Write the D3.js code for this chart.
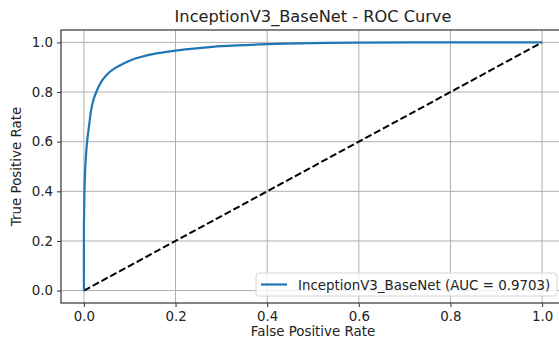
<!DOCTYPE html>
<html>
<head>
<meta charset="utf-8">
<script src="https://cdn.jsdelivr.net/npm/d3@7"></script>
<style>
  body { margin: 0; background: #fff; }
  svg text { font-family: "DejaVu Sans", sans-serif; fill: #222; }
</style>
</head>
<body>
<script>
// ROC curve
var fpr = [0, 0, 0.001, 0.002, 0.004, 0.007, 0.011, 0.016, 0.021, 0.027, 0.034, 0.041, 0.051, 0.063, 0.076, 0.089, 0.105, 0.122, 0.15, 0.2, 0.25, 0.3, 0.4, 0.5, 0.6, 0.8, 1.0];
var tpr = [0, 0.25, 0.38, 0.45, 0.53, 0.6, 0.661, 0.729, 0.77, 0.8, 0.828, 0.85, 0.872, 0.89, 0.905, 0.917, 0.93, 0.94, 0.953, 0.967, 0.977, 0.985, 0.993, 0.997, 0.999, 1.0, 1.0];
var chanceLine = [0, 1];
var ticks = [0, 0.2, 0.4, 0.6, 0.8, 1.0];
var titleText = 'InceptionV3_BaseNet - ROC Curve';
var legendLabel = 'InceptionV3_BaseNet (AUC = 0.9703)';

var width = 559, height = 338;
var margin = {top: 30, right: -6, bottom: 35, left: 61};

var svg = d3.select('body').append('svg')
  .attr('width', width)
  .attr('height', height);

// scales: matplotlib pads 5% each side
var x = d3.scaleLinear().domain([-0.05, 1.05]).range([margin.left, width - margin.right]);
var y = d3.scaleLinear().domain([-0.05, 1.05]).range([height - margin.bottom, margin.top]);

// grid
var grid = svg.append('g').attr('class', 'grid');
ticks.forEach(function(t) {
  grid.append('line')
    .attr('x1', x(t)).attr('x2', x(t))
    .attr('y1', y(-0.05)).attr('y2', y(1.05))
    .attr('stroke', '#b0b0b0').attr('stroke-width', 1);
  grid.append('line')
    .attr('x1', x(-0.05)).attr('x2', x(1.05))
    .attr('y1', y(t)).attr('y2', y(t))
    .attr('stroke', '#b0b0b0').attr('stroke-width', 1);
});

// chance diagonal
svg.append('line')
  .attr('x1', x(chanceLine[0])).attr('y1', y(chanceLine[0]))
  .attr('x2', x(chanceLine[1])).attr('y2', y(chanceLine[1]))
  .attr('stroke', '#000').attr('stroke-width', 2)
  .attr('stroke-dasharray', '7,3');

// roc curve (centripetal catmull-rom keeps it smooth through the knee)
var pts = fpr.map(function(f, i) { return [f, tpr[i]]; });
var line = d3.line()
  .x(function(d) { return x(d[0]); })
  .y(function(d) { return y(d[1]); })
  .curve(d3.curveCatmullRom.alpha(0.5));
svg.append('path')
  .datum(pts)
  .attr('d', line)
  .attr('fill', 'none')
  .attr('stroke', '#1f77b4')
  .attr('stroke-width', 2.2)
  .attr('stroke-linejoin', 'round');

// axes
var xAxis = d3.axisBottom(x).tickValues(ticks).tickFormat(d3.format('.1f')).tickSize(4).tickPadding(4);
var yAxis = d3.axisLeft(y).tickValues(ticks).tickFormat(d3.format('.1f')).tickSize(4).tickPadding(4);

var gx = svg.append('g').attr('transform', 'translate(0,' + y(-0.05) + ')').call(xAxis);
var gy = svg.append('g').attr('transform', 'translate(' + x(-0.05) + ',0)').call(yAxis);
[gx, gy].forEach(function(g) {
  g.select('.domain').remove();
  g.selectAll('.tick line').attr('stroke', '#333');
  g.selectAll('.tick text').style('font-size', '13.4px').attr('fill', '#222');
});

// spines
svg.append('rect')
  .attr('x', x(-0.05)).attr('y', y(1.05))
  .attr('width', x(1.05) - x(-0.05)).attr('height', y(-0.05) - y(1.05))
  .attr('fill', 'none').attr('stroke', '#333').attr('stroke-width', 1.2);

// title + labels
svg.append('text')
  .attr('x', (x(-0.05) + x(1.05)) / 2).attr('y', 22)
  .attr('text-anchor', 'middle').style('font-size', '16.2px')
  .text(titleText);
svg.append('text')
  .attr('x', (x(-0.05) + x(1.05)) / 2).attr('y', 336)
  .attr('text-anchor', 'middle').style('font-size', '13.4px')
  .text('False Positive Rate');
svg.append('text')
  .attr('transform', 'translate(21,' + (y(-0.05) + y(1.05)) / 2 + ') rotate(-90)')
  .attr('text-anchor', 'middle').style('font-size', '13.4px')
  .text('True Positive Rate');

// legend
var lg = svg.append('g').attr('transform', 'translate(256,273)');
lg.append('rect')
  .attr('width', 301).attr('height', 23).attr('rx', 3)
  .attr('fill', 'rgba(255,255,255,0.8)').attr('stroke', '#d5d5d5');
lg.append('line')
  .attr('x1', 5).attr('x2', 31).attr('y1', 11.5).attr('y2', 11.5)
  .attr('stroke', '#1f77b4').attr('stroke-width', 2.2);
lg.append('text')
  .attr('x', 42).attr('y', 16.5).style('font-size', '13.4px')
  .text(legendLabel);
</script>
</body>
</html>
